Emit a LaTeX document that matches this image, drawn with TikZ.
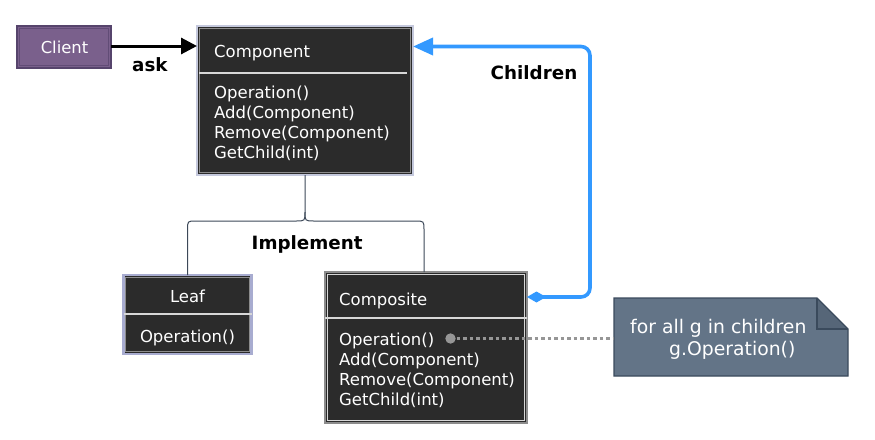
\documentclass[tikz,border=0pt]{standalone}
\usepackage{fontspec}
\setmainfont{DejaVu Sans}
\usetikzlibrary{arrows.meta}
\definecolor{classfill}{RGB}{43,43,43}
\definecolor{classouter}{RGB}{196,200,220}
\definecolor{leafouter}{RGB}{168,172,208}
\definecolor{classinner}{RGB}{140,140,140}
\definecolor{sepcol}{RGB}{215,215,215}
\definecolor{clientfill}{RGB}{122,96,140}
\definecolor{clientdraw}{RGB}{86,68,108}
\definecolor{childblue}{RGB}{51,153,255}
\definecolor{notefill}{RGB}{99,116,135}
\definecolor{notefold}{RGB}{86,102,120}
\definecolor{notedraw}{RGB}{58,74,92}
\definecolor{implcol}{RGB}{60,72,88}
\definecolor{dotcol}{RGB}{150,150,150}
\tikzset{
  classbox/.style={draw=classouter, line width=2.5pt, fill=classfill, inner sep=0pt, outer sep=0pt},
  classtext/.style={text=white, font=\fontsize{16.5}{20}\selectfont, inner sep=0pt},
  septxt/.style={draw=sepcol, line width=1.8pt},
  labeltext/.style={text=black, font=\fontsize{18.3}{22}\selectfont\bfseries, inner sep=0pt},
  notetext/.style={text=white, font=\fontsize{18.8}{22}\selectfont, inner sep=0pt},
  implline/.style={draw=implcol, line width=1pt},
}
\begin{document}
\begin{tikzpicture}[x=1pt,y=-1pt]
\useasboundingbox (0,0) rectangle (875,439);
% Client
\node[draw=clientdraw, line width=2pt, fill=clientfill, minimum width=94pt, minimum height=42pt, inner sep=0pt, outer sep=0pt] (client) at (64,47) {};
\draw[clientdraw!70!clientfill, line width=1pt] ([shift={(2.5pt,-2.5pt)}]client.north west) rectangle ([shift={(-2.5pt,2.5pt)}]client.south east);
\node[text=white, font=\fontsize{16.4}{20}\selectfont, inner sep=0pt, anchor=base] (clientT) at (64.5,53.3) {Client};
% Component
\node[classbox, minimum width=216pt, minimum height=149pt] (comp) at (305,100.5) {};
\draw[classinner, line width=1.2pt] ([shift={(2.2pt,-2.2pt)}]comp.north west) rectangle ([shift={(-2.2pt,2.2pt)}]comp.south east);
\node[classtext, anchor=base west] (compT) at (214,57.3) {Component};
\draw[septxt] (199,72.7) -- (407,72.7);
\node[classtext, anchor=base west] (compM1) at (214,98) {Operation()};
\node[classtext, anchor=base west] (compM2) at (214,118) {Add(Component)};
\node[classtext, anchor=base west] (compM3) at (214,138) {Remove(Component)};
\node[classtext, anchor=base west] (compM4) at (214,158) {GetChild(int)};
% Leaf
\node[classbox, draw=leafouter, minimum width=128pt, minimum height=79pt] (leaf) at (187.5,314.5) {};
\draw[classinner, line width=1.2pt] ([shift={(2.2pt,-2.2pt)}]leaf.north west) rectangle ([shift={(-2.2pt,2.2pt)}]leaf.south east);
\node[classtext, anchor=base] (leafT) at (187.5,302) {Leaf};
\draw[septxt] (leaf.west |- 0,314) -- (leaf.east |- 0,314);
\node[classtext, anchor=base] (leafM1) at (187.5,342) {Operation()};
% Composite
\node[classbox, draw=classinner, minimum width=202pt, minimum height=151pt] (compo) at (426,347.5) {};
\draw[sepcol, line width=1.2pt] ([shift={(2.2pt,-2.2pt)}]compo.north west) rectangle ([shift={(-2.2pt,2.2pt)}]compo.south east);
\node[classtext, anchor=base west] (compoT) at (339,305) {Composite};
\draw[septxt] (compo.west |- 0,318) -- (compo.east |- 0,318);
\node[classtext, anchor=base west] (compoM1) at (339,345) {Operation()};
\node[classtext, anchor=base west] (compoM2) at (339,365) {Add(Component)};
\node[classtext, anchor=base west] (compoM3) at (339,385) {Remove(Component)};
\node[classtext, anchor=base west] (compoM4) at (339,405) {GetChild(int)};
% Note
\node[minimum width=234pt, minimum height=78pt, inner sep=0pt, outer sep=0pt] (note) at (731,337) {};
\fill[notefill] (note.north west) -- ([xshift=-31pt]note.north east) -- ([yshift=-31pt]note.north east) -- (note.south east) -- (note.south west) -- cycle;
\fill[notefold] ([xshift=-31pt]note.north east) -- ([xshift=-31pt,yshift=-31pt]note.north east) -- ([yshift=-31pt]note.north east) -- cycle;
\draw[notedraw, line width=1.2pt, line join=miter] (note.north west) -- ([xshift=-31pt]note.north east) -- ([yshift=-31pt]note.north east) -- (note.south east) -- (note.south west) -- cycle;
\draw[notedraw, line width=1.2pt] ([xshift=-31pt]note.north east) -- ([xshift=-31pt,yshift=-31pt]note.north east) -- ([yshift=-31pt]note.north east);
\node[notetext, anchor=base west] (noteL1) at (630,333.3) {for all g in children};
\node[notetext, anchor=base west] (noteL2) at (669,355) {g.Operation()};
% Client -> Component
\draw[black, line width=3pt, -{Triangle[length=16pt,width=16pt]}] (client.east |- 0,46) -- (comp.west |- 0,46);
\node[labeltext, anchor=base west] (ask) at (132,71.7) {ask};
% Children
\coordinate (cstart) at ([yshift=-25pt]compo.north east);
\coordinate (cy) at (0,46.5);
\draw[childblue, line width=3.6pt, rounded corners=9pt, {Diamond[length=19pt,width=11pt]}-{Triangle[length=20pt,width=17pt]}] (cstart) -- (590,297) -- (590,46.5) -- (comp.east |- cy);
\node[labeltext, anchor=base west] (children) at (490.5,79.3) {Children};
% Implement
\draw[implline] (comp.south) -- (305,212) .. controls (305,221) .. (296,221) -- (196,221) .. controls (187.5,221) .. (187.5,230) -- (leaf.north);
\draw[implline] (305,212) .. controls (305,221) .. (314,221) -- (415,221) .. controls (424,221) .. (424,230) -- (424,0 |- compo.north);
\node[labeltext, anchor=base west] (impl) at (251.5,249) {Implement};
% dotted link
\coordinate (dot) at (450.5,338.5);
\fill[dotcol] (dot) circle (5.2pt);
\draw[dotcol, line width=3.8pt, dash pattern=on 3.5pt off 3pt] ([xshift=6pt]dot) -- (note.west |- dot);
\end{tikzpicture}
\end{document}
